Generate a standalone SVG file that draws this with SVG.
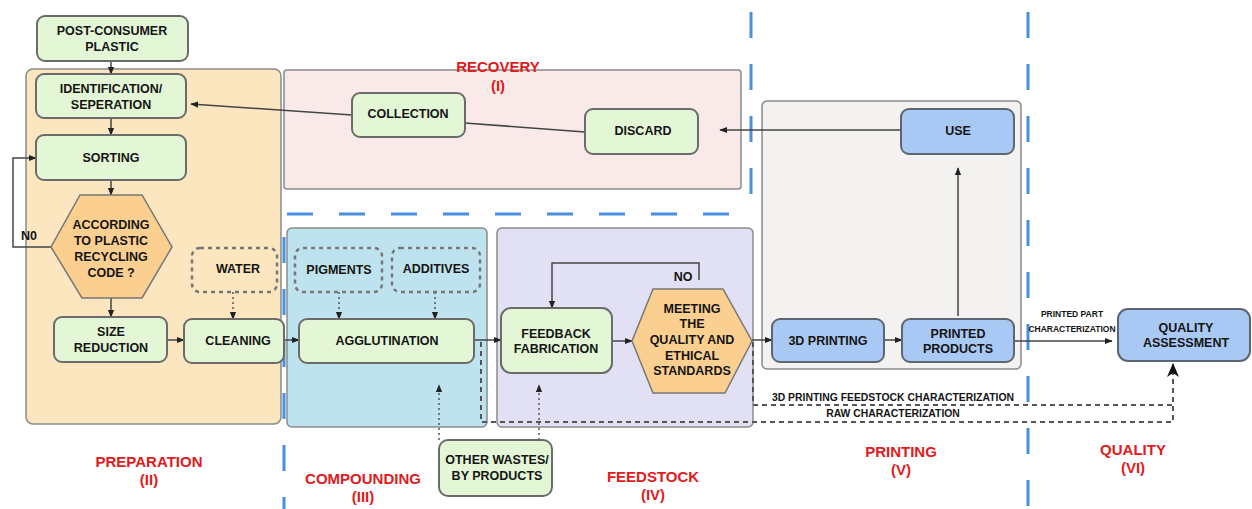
<svg xmlns="http://www.w3.org/2000/svg" width="1252" height="509" viewBox="0 0 1252 509">
<style>
text{font-family:"Liberation Sans",Arial,sans-serif;font-weight:700;text-anchor:middle;fill:#141414}
.t{font-size:12.5px}
.s{font-size:8.5px}
.m{font-size:10.4px}
.ph{font-size:15px;fill:#e01b1b}
.panel{stroke:#8a8a8a;stroke-width:1.5}
.g{fill:#e3f7d6;stroke:#6b6b6b;stroke-width:2}
.b{fill:#a9c9f5;stroke:#5d6670;stroke-width:2}
.o{fill:#fbcf8f;stroke:#777;stroke-width:1.5}
.dbox{fill:none;stroke:#777;stroke-width:2.5;stroke-dasharray:4 4}
.c{fill:none;stroke:#444;stroke-width:1.5}
.dot{fill:none;stroke:#555;stroke-width:1.5;stroke-dasharray:2 3}
.dash{fill:none;stroke:#555;stroke-width:2;stroke-dasharray:5 4}
.bl{fill:none;stroke:#4a90e2;stroke-width:3;stroke-dasharray:26 26}
</style>
<defs>
<marker id="a" viewBox="0 0 10 10" refX="9" refY="5" markerWidth="8" markerHeight="8" markerUnits="userSpaceOnUse" orient="auto"><path d="M0,1 L10,5 L0,9 z" fill="#222"/></marker>
<marker id="big" viewBox="0 0 12 14" refX="6" refY="1" markerWidth="12" markerHeight="16" markerUnits="userSpaceOnUse" orient="0"><path d="M6,0 L12,14 L6,10 L0,14 z" fill="#111"/></marker>
</defs>

<g id="panels">
<rect id="panel-preparation" x="26" y="69" width="255" height="355" rx="7" fill="#fbe6bf" class="panel"/>
<rect id="panel-recovery" x="284" y="70" width="457" height="119" rx="3" fill="#f9e9e9" class="panel"/>
<rect id="panel-compounding" x="287" y="228" width="200" height="199" rx="5" fill="#bfe3ee" class="panel"/>
<rect id="panel-feedstock" x="497" y="228" width="256" height="199" rx="5" fill="#e2e0f5" class="panel"/>
<rect id="panel-printing" x="762" y="101" width="259" height="268" rx="5" fill="#f3f2f0" class="panel"/>
</g>

<g id="phase-dividers">
<line class="bl" x1="287" y1="214" x2="751" y2="214"/>
<line class="bl" x1="751" y1="9" x2="751" y2="214" stroke-dashoffset="-3"/>
<line class="bl" x1="1028" y1="9" x2="1028" y2="509" stroke-dashoffset="-3"/>
<line class="bl" x1="284" y1="214" x2="284" y2="509" stroke-dashoffset="-23"/>
</g>

<g id="connectors">
<line class="c" x1="111" y1="61" x2="111" y2="74" marker-end="url(#a)"/>
<line class="c" x1="111" y1="118" x2="111" y2="135" marker-end="url(#a)"/>
<line class="c" x1="111" y1="180" x2="111" y2="195" marker-end="url(#a)"/>
<line class="c" x1="111" y1="298" x2="111" y2="317" marker-end="url(#a)"/>
<path class="c" d="M51,247 H13 V158 H36" marker-end="url(#a)"/>
<line class="c" x1="167" y1="340" x2="184" y2="340" marker-end="url(#a)"/>
<line class="dot" x1="233" y1="292" x2="233" y2="319" marker-end="url(#a)"/>
<line class="c" x1="284" y1="340" x2="299" y2="340" marker-end="url(#a)"/>
<line class="dot" x1="339" y1="292" x2="339" y2="319" marker-end="url(#a)"/>
<line class="dot" x1="435" y1="292" x2="435" y2="319" marker-end="url(#a)"/>
<line class="c" x1="474" y1="340" x2="501" y2="340" marker-end="url(#a)"/>
<line class="c" x1="612" y1="341" x2="632" y2="341" marker-end="url(#a)"/>
<path class="c" d="M699,280 V263 H552 V308" marker-end="url(#a)"/>
<line class="c" x1="752" y1="340" x2="772" y2="340" marker-end="url(#a)"/>
<line class="c" x1="884" y1="340" x2="902" y2="340" marker-end="url(#a)"/>
<line class="c" x1="958" y1="316" x2="958" y2="168" marker-end="url(#a)"/>
<line class="c" x1="901" y1="130" x2="720" y2="130" marker-end="url(#a)"/>
<line class="c" x1="585" y1="132" x2="465" y2="123"/>
<line class="c" x1="352" y1="115" x2="191" y2="104" marker-end="url(#a)"/>
<line class="c" x1="1014" y1="341" x2="1112" y2="341" marker-end="url(#a)"/>
<line class="dot" x1="439" y1="440" x2="439" y2="385" marker-end="url(#a)"/>
<line class="dot" x1="539" y1="440" x2="539" y2="385" marker-end="url(#a)"/>
<path class="dash" d="M481,342 V422 H1173 V364" marker-end="url(#big)"/>
<path class="dash" d="M753,342 V405 H1173"/>
<text class="s" x="1072" y="317">PRINTED PART</text>
<text class="s" x="1072" y="332">CHARACTERIZATION</text>
<text class="m" x="893" y="401">3D PRINTING FEEDSTOCK CHARACTERIZATION</text>
<text class="m" x="893" y="417">RAW CHARACTERIZATION</text>
<text class="t" x="29" y="240">N0</text>
<text class="t" x="683" y="281">NO</text>
</g>

<g id="post-consumer"><rect class="g" x="37" y="16" width="151" height="45" rx="8"/><text class="t" x="112" y="35">POST-CONSUMER</text><text class="t" x="112" y="51">PLASTIC</text></g>
<g id="identification"><rect class="g" x="36" y="74" width="150" height="44" rx="8"/><text class="t" x="111" y="93">IDENTIFICATION/</text><text class="t" x="111" y="109">SEPERATION</text></g>
<g id="sorting"><rect class="g" x="36" y="135" width="150" height="45" rx="8"/><text class="t" x="111" y="162">SORTING</text></g>
<g id="plastic-code"><polygon class="o" points="80,195 142,195 172,247 142,298 82,298 51,247"/><text class="t" x="111" y="229">ACCORDING</text><text class="t" x="111" y="245">TO PLASTIC</text><text class="t" x="111" y="261">RECYCLING</text><text class="t" x="111" y="277">CODE ?</text></g>
<g id="size-reduction"><rect class="g" x="54" y="317" width="113" height="45" rx="8"/><text class="t" x="111" y="336">SIZE</text><text class="t" x="111" y="352">REDUCTION</text></g>
<g id="water"><rect class="dbox" x="192" y="248" width="85" height="44" rx="8"/><text class="t" x="238" y="273">WATER</text></g>
<g id="cleaning"><rect class="g" x="184" y="319" width="100" height="44" rx="8"/><text class="t" x="238" y="345">CLEANING</text></g>
<g id="pigments"><rect class="dbox" x="295" y="248" width="87" height="44" rx="8"/><text class="t" x="339" y="274">PIGMENTS</text></g>
<g id="additives"><rect class="dbox" x="392" y="248" width="88" height="44" rx="8"/><text class="t" x="436" y="273">ADDITIVES</text></g>
<g id="agglutination"><rect class="g" x="299" y="319" width="175" height="44" rx="8"/><text class="t" x="387" y="345">AGGLUTINATION</text></g>
<g id="feedback-fabrication"><rect class="g" x="501" y="308" width="111" height="65" rx="10"/><text class="t" x="556" y="338">FEEDBACK</text><text class="t" x="556" y="353">FABRICATION</text></g>
<g id="meeting-standards"><polygon class="o" points="653,289 723,289 752,341 725,393 653,393 632,341"/><text class="t" x="692" y="313">MEETING</text><text class="t" x="692" y="328">THE</text><text class="t" x="692" y="344">QUALITY AND</text><text class="t" x="692" y="360">ETHICAL</text><text class="t" x="692" y="375">STANDARDS</text></g>
<g id="other-wastes"><rect class="g" x="439" y="440" width="113" height="56" rx="9"/><text class="t" x="497" y="464">OTHER WASTES/</text><text class="t" x="497" y="480">BY PRODUCTS</text></g>
<g id="collection"><rect class="g" x="352" y="93" width="113" height="44" rx="8"/><text class="t" x="408" y="118">COLLECTION</text></g>
<g id="discard"><rect class="g" x="585" y="109" width="113" height="45" rx="8"/><text class="t" x="643" y="135">DISCARD</text></g>
<g id="use"><rect class="b" x="901" y="109" width="113" height="45" rx="8"/><text class="t" x="958" y="135">USE</text></g>
<g id="printing-3d"><rect class="b" x="772" y="319" width="112" height="43" rx="8"/><text class="t" x="828" y="345">3D PRINTING</text></g>
<g id="printed-products"><rect class="b" x="902" y="319" width="112" height="43" rx="8"/><text class="t" x="958" y="338">PRINTED</text><text class="t" x="958" y="353">PRODUCTS</text></g>
<g id="quality-assessment"><rect class="b" x="1118" y="309" width="132" height="52" rx="10"/><text class="t" x="1186" y="332">QUALITY</text><text class="t" x="1186" y="347">ASSESSMENT</text></g>

<g id="phase-labels">
<text class="ph" x="498" y="72">RECOVERY</text><text class="ph" x="498" y="91">(I)</text>
<text class="ph" x="149" y="467">PREPARATION</text><text class="ph" x="149" y="485">(II)</text>
<text class="ph" x="363" y="484">COMPOUNDING</text><text class="ph" x="363" y="502">(III)</text>
<text class="ph" x="653" y="482">FEEDSTOCK</text><text class="ph" x="653" y="500">(IV)</text>
<text class="ph" x="901" y="457">PRINTING</text><text class="ph" x="901" y="475">(V)</text>
<text class="ph" x="1133" y="455">QUALITY</text><text class="ph" x="1133" y="473">(VI)</text>
</g>
</svg>
